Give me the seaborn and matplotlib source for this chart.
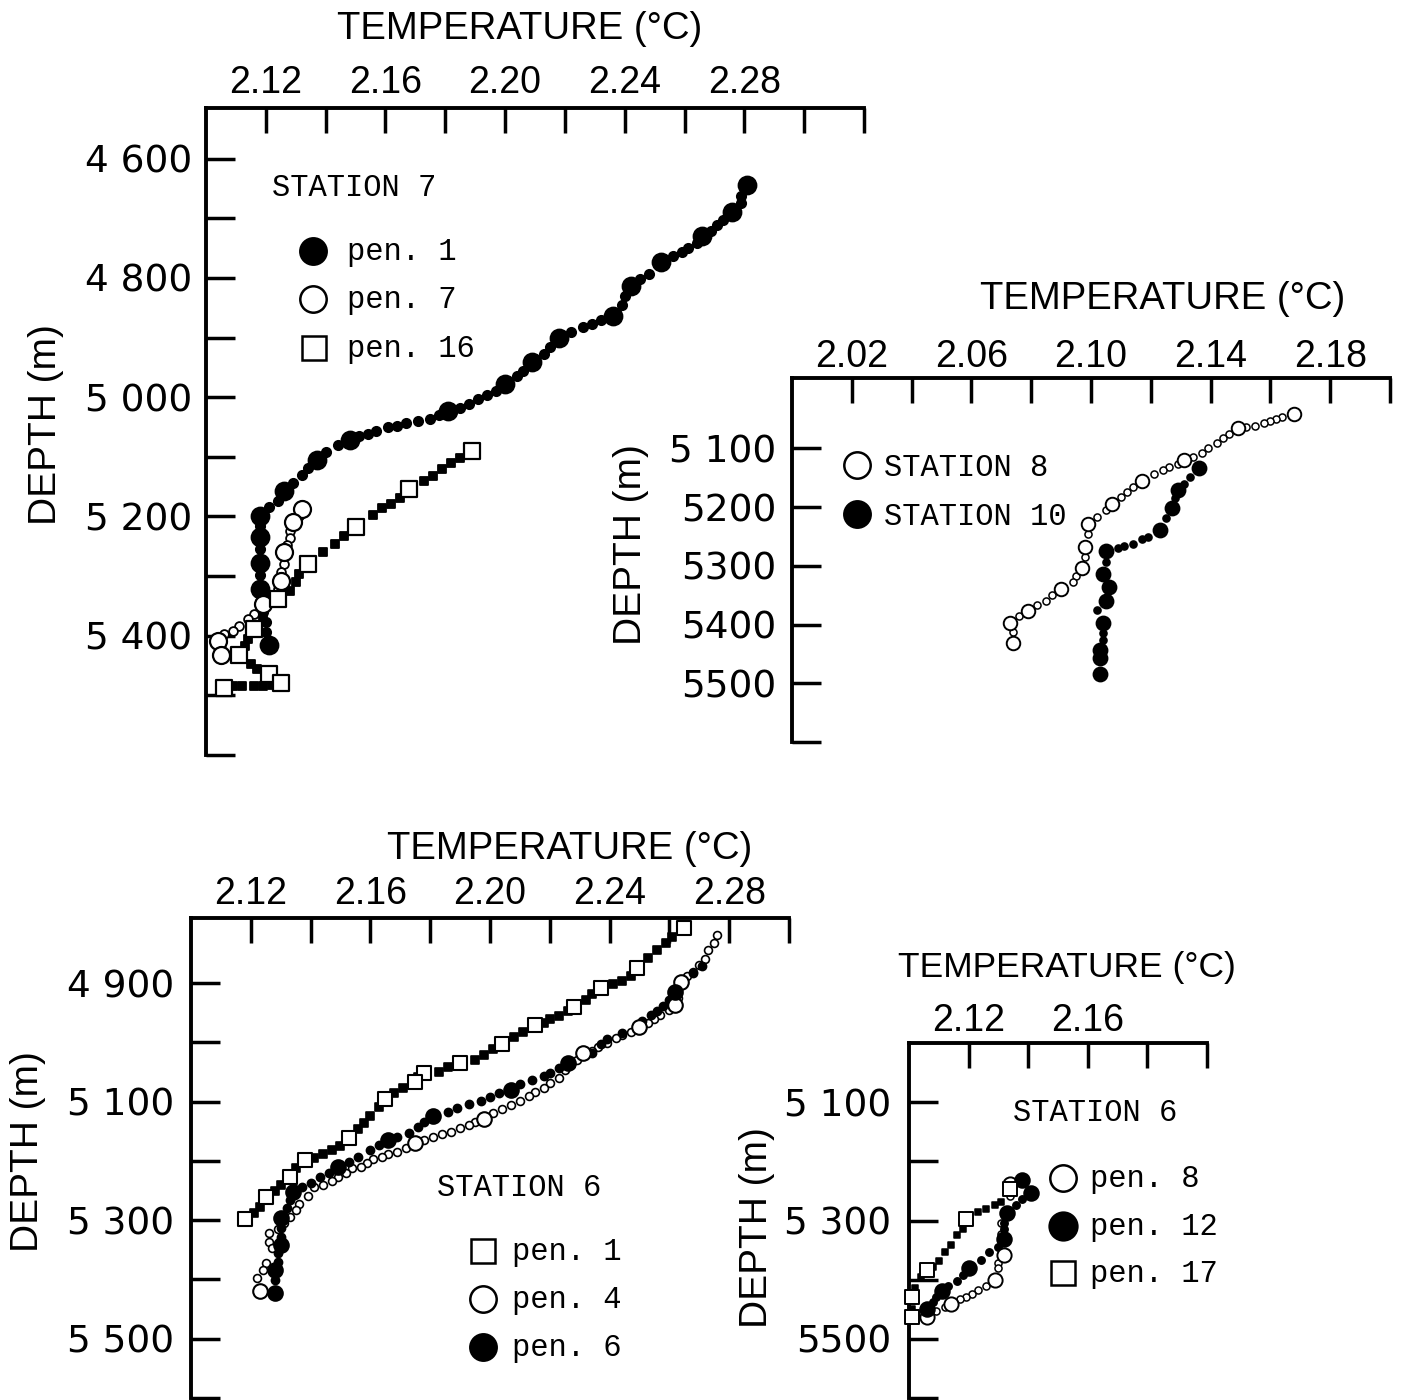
import numpy as np
import pandas as pd
import matplotlib
matplotlib.use("Agg")
import matplotlib.pyplot as plt
import seaborn as sns
from matplotlib.lines import Line2D

# ---------------- DATA ----------------
# Station 7 (top-left panel)
S7_PEN1_T = [2.281, 2.279, 2.279, 2.276, 2.273, 2.271, 2.269, 2.266, 2.264, 2.261,
             2.259, 2.256, 2.252, 2.248, 2.245, 2.242, 2.240, 2.239, 2.236, 2.232,
             2.229, 2.226, 2.222, 2.218, 2.215, 2.213, 2.209, 2.206, 2.204, 2.200,
             2.197, 2.194, 2.191, 2.188, 2.185, 2.181, 2.178, 2.175, 2.171, 2.167,
             2.164, 2.161, 2.157, 2.154, 2.151, 2.148, 2.144, 2.140, 2.137, 2.134,
             2.132, 2.129, 2.126, 2.124, 2.121, 2.118, 2.118, 2.118, 2.118, 2.118,
             2.118, 2.118, 2.118, 2.119, 2.120, 2.120, 2.121]
S7_PEN1_D = [4644, 4662, 4674, 4689, 4702, 4712, 4722, 4730, 4741, 4749,
             4756, 4764, 4774, 4794, 4802, 4813, 4831, 4846, 4863, 4871,
             4878, 4883, 4891, 4900, 4916, 4928, 4941, 4956, 4965, 4978,
             4990, 4997, 5003, 5012, 5018, 5023, 5030, 5037, 5040, 5043,
             5049, 5050, 5057, 5062, 5065, 5072, 5080, 5092, 5105, 5119,
             5131, 5144, 5157, 5174, 5184, 5199, 5216, 5234, 5254, 5278,
             5298, 5321, 5343, 5360, 5377, 5393, 5415]
S7_PEN1_MARKED = [0, 3, 7, 12, 15, 18, 23, 26, 29, 35, 45, 48, 52, 55, 57, 59, 61, 66]

S7_PEN7_T = [2.132, 2.131, 2.129, 2.128, 2.128, 2.127, 2.126, 2.126, 2.125, 2.125,
             2.124, 2.122, 2.119, 2.116, 2.114, 2.111, 2.109, 2.106, 2.104, 2.105, 2.105]
S7_PEN7_D = [5187, 5199, 5209, 5224, 5236, 5248, 5259, 5279, 5293, 5308,
             5321, 5333, 5346, 5363, 5372, 5383, 5392, 5397, 5408, 5422, 5433]
S7_PEN7_MARKED = [0, 2, 6, 9, 12, 18, 20]

S7_PEN16_T = [2.189, 2.185, 2.182, 2.179, 2.176, 2.173, 2.168, 2.165, 2.162, 2.159,
              2.156, 2.150, 2.146, 2.143, 2.139, 2.134, 2.131, 2.130, 2.128, 2.124,
              2.120, 2.119, 2.116, 2.114, 2.113, 2.111, 2.115, 2.117, 2.121, 2.125,
              2.122, 2.119, 2.116, 2.112, 2.109, 2.106]
S7_PEN16_D = [5090, 5102, 5110, 5120, 5132, 5141, 5154, 5169, 5179, 5186,
              5197, 5218, 5233, 5246, 5259, 5280, 5296, 5310, 5325, 5338,
              5350, 5372, 5388, 5405, 5418, 5433, 5447, 5455, 5465, 5480,
              5482, 5484, 5484, 5485, 5485, 5487]
S7_PEN16_MARKED = [0, 6, 11, 15, 19, 22, 25, 28, 29, 35]

# Stations 8 and 10 (top-right panel)
ST8_T = [2.168, 2.164, 2.162, 2.160, 2.158, 2.155, 2.152, 2.149, 2.146, 2.144,
         2.142, 2.139, 2.137, 2.134, 2.131, 2.129, 2.126, 2.124, 2.121, 2.117,
         2.114, 2.112, 2.110, 2.107, 2.105, 2.102, 2.099, 2.099, 2.098, 2.098,
         2.097, 2.095, 2.094, 2.090, 2.087, 2.085, 2.082, 2.079, 2.076, 2.073,
         2.074, 2.074]
ST8_D = [5041, 5046, 5049, 5054, 5057, 5061, 5064, 5066, 5076, 5083,
         5091, 5100, 5107, 5114, 5119, 5126, 5131, 5137, 5144, 5156,
         5166, 5175, 5183, 5195, 5205, 5216, 5228, 5246, 5268, 5285,
         5304, 5318, 5328, 5340, 5350, 5359, 5367, 5377, 5386, 5398,
         5413, 5432]
ST8_MARKED = [0, 7, 14, 19, 23, 26, 28, 30, 33, 37, 39, 41]

ST10_T = [2.136, 2.133, 2.131, 2.129, 2.128, 2.127, 2.125, 2.123, 2.119, 2.117,
          2.114, 2.111, 2.109, 2.105, 2.105, 2.104, 2.106, 2.105, 2.102, 2.104,
          2.104, 2.104, 2.103, 2.103, 2.103]
ST10_D = [5134, 5149, 5160, 5170, 5185, 5202, 5219, 5239, 5250, 5255,
          5262, 5267, 5270, 5275, 5294, 5313, 5336, 5360, 5376, 5398,
          5415, 5427, 5444, 5457, 5484]
ST10_MARKED = [0, 3, 5, 7, 13, 15, 16, 17, 19, 22, 23, 24]

# Station 6, pens 1 / 4 / 6 (bottom-left panel)
S6_PEN1_T = [2.265, 2.261, 2.259, 2.256, 2.253, 2.249, 2.247, 2.244, 2.241, 2.237,
             2.234, 2.232, 2.228, 2.226, 2.223, 2.220, 2.218, 2.215, 2.211, 2.208,
             2.204, 2.201, 2.198, 2.195, 2.190, 2.186, 2.183, 2.178, 2.176, 2.175,
             2.171, 2.168, 2.165, 2.163, 2.160, 2.158, 2.156, 2.153, 2.150, 2.147,
             2.144, 2.141, 2.138, 2.135, 2.133, 2.130, 2.128, 2.125, 2.123, 2.121,
             2.118]
S6_PEN1_D = [4807, 4822, 4833, 4844, 4858, 4875, 4888, 4897, 4902, 4908,
             4919, 4929, 4940, 4947, 4956, 4961, 4967, 4971, 4983, 4991,
             5003, 5011, 5021, 5030, 5035, 5042, 5050, 5052, 5059, 5067,
             5077, 5085, 5096, 5109, 5124, 5136, 5146, 5161, 5175, 5182,
             5188, 5195, 5198, 5212, 5227, 5241, 5251, 5261, 5278, 5287,
             5298]
S6_PEN1_MARKED = [0, 5, 9, 12, 17, 20, 24, 27, 29, 32, 37, 42, 44, 47, 50]

S6_PEN4_T = [2.276, 2.275, 2.273, 2.272, 2.270, 2.268, 2.266, 2.264, 2.263, 2.263,
             2.262, 2.260, 2.257, 2.255, 2.253, 2.250, 2.247, 2.244, 2.242, 2.239,
             2.236, 2.234, 2.231, 2.229, 2.227, 2.225, 2.223, 2.220, 2.218, 2.215,
             2.213, 2.210, 2.207, 2.204, 2.201, 2.198, 2.195, 2.193, 2.190, 2.187,
             2.184, 2.181, 2.178, 2.175, 2.172, 2.169, 2.166, 2.164, 2.161, 2.159,
             2.157, 2.154, 2.152, 2.149, 2.147, 2.144, 2.141, 2.139, 2.136, 2.135,
             2.133, 2.131, 2.129, 2.126, 2.126, 2.127, 2.125, 2.124, 2.122, 2.123]
S6_PEN4_D = [4819, 4833, 4844, 4860, 4870, 4881, 4888, 4898, 4912, 4925,
             4937, 4946, 4954, 4961, 4967, 4974, 4983, 4988, 4993, 5001,
             5008, 5015, 5018, 5030, 5038, 5047, 5060, 5069, 5077, 5084,
             5091, 5099, 5106, 5112, 5119, 5129, 5134, 5139, 5145, 5151,
             5155, 5160, 5165, 5170, 5178, 5185, 5188, 5193, 5197, 5204,
             5210, 5212, 5220, 5227, 5234, 5241, 5244, 5259, 5273, 5283,
             5295, 5305, 5315, 5322, 5337, 5347, 5372, 5384, 5397, 5419]
S6_PEN4_MARKED = [7, 10, 15, 22, 35, 43, 69]

S6_PEN6_T = [2.271, 2.268, 2.262, 2.260, 2.258, 2.256, 2.254, 2.251, 2.244, 2.239,
             2.237, 2.234, 2.226, 2.223, 2.220, 2.218, 2.214, 2.210, 2.207, 2.203,
             2.200, 2.197, 2.193, 2.189, 2.186, 2.181, 2.178, 2.176, 2.173, 2.169,
             2.166, 2.163, 2.160, 2.156, 2.153, 2.149, 2.146, 2.143, 2.140, 2.137,
             2.134, 2.133, 2.132, 2.130, 2.130, 2.130, 2.130, 2.129, 2.129, 2.128,
             2.128, 2.128]
S6_PEN6_D = [4871, 4883, 4915, 4929, 4939, 4947, 4954, 4964, 4984, 4994,
             5003, 5018, 5035, 5043, 5052, 5057, 5064, 5070, 5080, 5085,
             5092, 5099, 5104, 5111, 5118, 5124, 5134, 5143, 5153, 5160,
             5165, 5173, 5182, 5193, 5202, 5210, 5220, 5227, 5237, 5244,
             5252, 5266, 5279, 5296, 5313, 5328, 5342, 5355, 5371, 5384,
             5401, 5423]
S6_PEN6_MARKED = [2, 12, 18, 25, 30, 35, 40, 43, 46, 49, 51]

# Station 6, pens 8 / 12 / 17 (bottom-right panel)
S6_PEN8_T = [2.134, 2.134, 2.131, 2.131, 2.132, 2.130, 2.130, 2.129, 2.126, 2.123,
             2.121, 2.119, 2.117, 2.114, 2.112, 2.109, 2.106]
S6_PEN8_D = [5239, 5259, 5305, 5322, 5358, 5371, 5381, 5400, 5410, 5417,
             5424, 5429, 5432, 5441, 5447, 5453, 5463]
S6_PEN8_MARKED = [0, 4, 7, 13, 16]

S6_PEN12_T = [2.138, 2.141, 2.138, 2.136, 2.133, 2.132, 2.132, 2.132, 2.130, 2.127,
              2.124, 2.120, 2.118, 2.116, 2.113, 2.111, 2.109, 2.108, 2.106]
S6_PEN12_D = [5232, 5254, 5264, 5273, 5288, 5305, 5315, 5332, 5344, 5354,
              5366, 5380, 5392, 5402, 5410, 5419, 5429, 5437, 5449]
S6_PEN12_MARKED = [0, 1, 4, 7, 11, 15, 18]

S6_PEN17_T = [2.134, 2.131, 2.129, 2.126, 2.123, 2.119, 2.118, 2.116, 2.114, 2.112,
              2.110, 2.108, 2.106, 2.104, 2.102, 2.101, 2.101, 2.101]
S6_PEN17_D = [5247, 5269, 5273, 5280, 5286, 5297, 5314, 5325, 5341, 5354,
              5368, 5378, 5383, 5395, 5414, 5429, 5449, 5463]
S6_PEN17_MARKED = [0, 5, 12, 15, 17]

# ---------------- STYLE / LAYOUT ----------------
sns.set_theme(style="white")
plt.rcParams['font.family'] = ['DejaVu Sans']

W, H = 1410, 1400
fig = plt.figure(figsize=(W / 100, H / 100), dpi=100)
fig.patch.set_facecolor("white")

NARROW = ['Liberation Sans', 'DejaVu Sans']
WIDE = ['DejaVu Sans']
MONO = ['Liberation Mono', 'DejaVu Sans Mono']


def fx(x):
    return x / W


def fy(y):
    return 1 - y / H


def make_axes(left, top, right, bottom, xlim, ylim, xticks, xlabels, yticks, ylabels,
              xpad=10, ypad=10):
    ax = fig.add_axes([fx(left), fy(bottom), fx(right) - fx(left), fy(top) - fy(bottom)])
    ax.set_facecolor("none")
    for s in ("right", "bottom"):
        ax.spines[s].set_visible(False)
    for s in ("top", "left"):
        ax.spines[s].set_visible(True)
        ax.spines[s].set_linewidth(2.8)
        ax.spines[s].set_color("black")
    ax.set_xlim(*xlim)
    ax.set_ylim(*ylim)
    ax.xaxis.set_ticks_position("top")
    ax.set_xticks(xticks, xlabels, fontsize=27, family=NARROW)
    ax.set_yticks(yticks, ylabels, fontsize=27, family=WIDE)
    ax.tick_params(axis="x", top=True, bottom=False, labeltop=True, labelbottom=False,
                   direction="in", length=18, width=2.5, pad=xpad, colors="black")
    ax.tick_params(axis="y", left=True, right=False, direction="in", length=21,
                   width=2.5, pad=ypad, colors="black")
    ax.grid(False)
    return ax


def series(ax, t, d, marked, marker, filled_small, filled_big, s_small, s_big, lw=1.3):
    df = pd.DataFrame({"T": t, "D": d})
    df["marked"] = False
    df.loc[marked, "marked"] = True
    small = df[~df["marked"]]
    big = df[df["marked"]]
    sns.scatterplot(data=small, x="T", y="D", ax=ax, marker=marker, s=s_small,
                    color="black", facecolor="black" if filled_small else "white",
                    edgecolor="black", linewidth=lw, zorder=3, legend=False, clip_on=False)
    sns.scatterplot(data=big, x="T", y="D", ax=ax, marker=marker, s=s_big,
                    color="black", facecolor="black" if filled_big else "white",
                    edgecolor="black", linewidth=lw + 0.3, zorder=4, legend=False, clip_on=False)
    ax.set_xlabel("")
    ax.set_ylabel("")


def legend_marker(x, y, marker, filled, size):
    fig.add_artist(Line2D([fx(x)], [fy(y)], transform=fig.transFigure, marker=marker,
                          markersize=size, markerfacecolor="black" if filled else "white",
                          markeredgecolor="black", markeredgewidth=1.8, linestyle="none"))


def mono(x, y, s):
    fig.text(fx(x), fy(y), s, family=MONO, fontsize=22, ha="left", va="center", color="black")


def title(x, y, size=27.5):
    fig.text(fx(x), fy(y), "TEMPERATURE (°C)", family=NARROW, fontsize=size,
             ha="center", va="center", color="black")


def depth(x, y, size=28):
    fig.text(fx(x), fy(y), "DEPTH (m)", family=NARROW, fontsize=size, rotation=90,
             ha="center", va="center", color="black")


# ---- Panel 1: Station 7 ----
xt1 = [2.12, 2.14, 2.16, 2.18, 2.20, 2.22, 2.24, 2.26, 2.28, 2.30, 2.32]
xl1 = ["2.12", "", "2.16", "", "2.20", "", "2.24", "", "2.28", "", ""]
yt1 = [4600, 4700, 4800, 4900, 5000, 5100, 5200, 5300, 5400, 5500, 5600]
yl1 = ["4 600", "", "4 800", "", "5 000", "", "5 200", "", "5 400", "", ""]
ax1 = make_axes(206, 108, 864, 755, (2.10, 2.32), (5600, 4515), xt1, xl1, yt1, yl1,
                xpad=5, ypad=10)
series(ax1, S7_PEN1_T, S7_PEN1_D, S7_PEN1_MARKED, "o", True, True, 45, 160)
series(ax1, S7_PEN7_T, S7_PEN7_D, S7_PEN7_MARKED, "o", False, False, 40, 150)
series(ax1, S7_PEN16_T, S7_PEN16_D, S7_PEN16_MARKED, "s", True, False, 30, 120)
title(520, 29)
depth(46, 425)
mono(272, 188, "STATION 7")
legend_marker(313, 251, "o", True, 19)
legend_marker(313, 299, "o", False, 19)
legend_marker(314, 348, "s", False, 17)
mono(347, 252, "pen. 1")
mono(347, 300, "pen. 7")
mono(347, 349, "pen. 16")

# ---- Panel 2: Stations 8 / 10 ----
xt2 = [2.02, 2.04, 2.06, 2.08, 2.10, 2.12, 2.14, 2.16, 2.18, 2.20]
xl2 = ["2.02", "", "2.06", "", "2.10", "", "2.14", "", "2.18", ""]
yt2 = [5100, 5200, 5300, 5400, 5500, 5600]
yl2 = ["5 100", "5200", "5300", "5400", "5500", ""]
ax2 = make_axes(792, 378, 1390, 742, (2.00, 2.20), (5600, 4980), xt2, xl2, yt2, yl2,
                xpad=2, ypad=11)
series(ax2, ST8_T, ST8_D, ST8_MARKED, "o", False, False, 26, 95, lw=1.1)
series(ax2, ST10_T, ST10_D, ST10_MARKED, "o", True, True, 26, 100, lw=1.1)
title(1163, 299)
depth(631, 545)
legend_marker(857, 465, "o", False, 19)
legend_marker(857, 514, "o", True, 19)
mono(884, 468, "STATION 8")
mono(884, 517, "STATION 10")

# ---- Panel 3: Station 6, pens 1/4/6 ----
xt3 = [2.12, 2.14, 2.16, 2.18, 2.20, 2.22, 2.24, 2.26, 2.28, 2.30]
xl3 = ["2.12", "", "2.16", "", "2.20", "", "2.24", "", "2.28", ""]
yt3 = [4900, 5000, 5100, 5200, 5300, 5400, 5500, 5600]
yl3 = ["4 900", "", "5 100", "", "5 300", "", "5 500", ""]
ax3 = make_axes(191, 918, 789, 1398, (2.10, 2.30), (5600, 4790), xt3, xl3, yt3, yl3,
                xpad=4, ypad=12)
series(ax3, S6_PEN1_T, S6_PEN1_D, S6_PEN1_MARKED, "s", True, False, 28, 100, lw=1.2)
series(ax3, S6_PEN4_T, S6_PEN4_D, S6_PEN4_MARKED, "o", False, False, 32, 110, lw=1.2)
series(ax3, S6_PEN6_T, S6_PEN6_D, S6_PEN6_MARKED, "o", True, True, 34, 110, lw=1.2)
title(570, 849)
depth(28, 1152)
mono(437, 1188, "STATION 6")
legend_marker(483, 1251, "s", False, 17)
legend_marker(483, 1299, "o", False, 19)
legend_marker(483, 1347, "o", True, 19)
mono(512, 1252, "pen. 1")
mono(512, 1300, "pen. 4")
mono(512, 1348, "pen. 6")

# ---- Panel 4: Station 6, pens 8/12/17 ----
xt4 = [2.12, 2.14, 2.16, 2.18, 2.20]
xl4 = ["2.12", "", "2.16", "", ""]
yt4 = [5100, 5200, 5300, 5400, 5500, 5600]
yl4 = ["5 100", "", "5 300", "", "5500", ""]
ax4 = make_axes(909, 1043, 1207, 1398, (2.10, 2.20), (5600, 5000), xt4, xl4, yt4, yl4,
                xpad=3, ypad=13)
series(ax4, S6_PEN8_T, S6_PEN8_D, S6_PEN8_MARKED, "o", False, False, 26, 105, lw=1.1)
series(ax4, S6_PEN12_T, S6_PEN12_D, S6_PEN12_MARKED, "o", True, True, 28, 110, lw=1.1)
series(ax4, S6_PEN17_T, S6_PEN17_D, S6_PEN17_MARKED, "s", True, False, 22, 90, lw=1.1)
title(1067, 967, size=25.5)
depth(757, 1228)
mono(1013, 1113, "STATION 6")
legend_marker(1063, 1178, "o", False, 19)
legend_marker(1063, 1226, "o", True, 20)
legend_marker(1063, 1273, "s", False, 17)
mono(1090, 1179, "pen. 8")
mono(1090, 1227, "pen. 12")
mono(1090, 1274, "pen. 17")

fig.savefig("out.png", dpi=100, facecolor="white")
